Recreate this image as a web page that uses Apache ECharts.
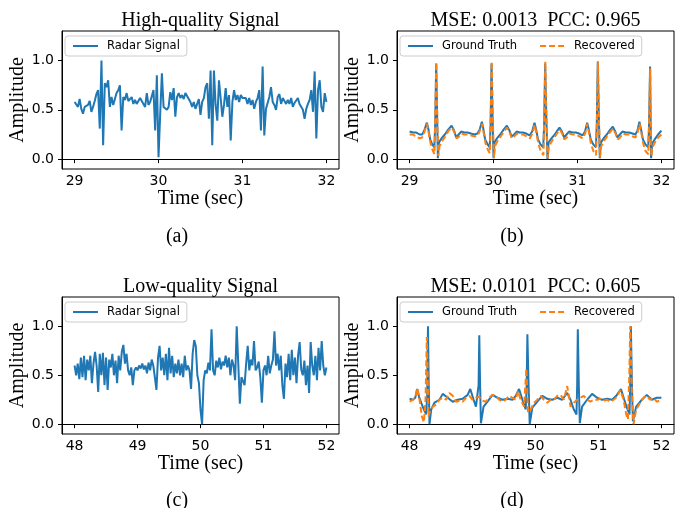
<!DOCTYPE html>
<html style="height: 100%">
<head>
<meta charset="utf-8">
<script src="https://cdn.jsdelivr.net/npm/echarts@6/dist/echarts.min.js"></script>
</head>
<body style="height: 100%; margin: 0; background: #fff">
<div id="main" style="width: 680px; height: 508px"></div>
<script>
// ---- data ----
var titles = ['High-quality Signal', 'MSE: 0.0013  PCC: 0.965', 'Low-quality Signal', 'MSE: 0.0101  PCC: 0.605'];
var panelTags = ['(a)', '(b)', '(c)', '(d)'];
var xTicksTop = [29, 30, 31, 32];
var xTicksBottom = [48, 49, 50, 51, 52];
var yTicks = [0, 0.5, 1];

// radar signal (a): starts 29 s, one value every 0.02 s
var radarA_t0 = 29, radarA_dt = 0.02;
var radarA = [
  0.58,0.56,0.53,0.61,0.51,0.46,0.53,0.51,0.55,0.59,
  0.48,0.53,0.59,0.66,0.70,0.31,1.00,0.14,0.77,0.73,
  0.80,0.53,0.63,0.55,0.56,0.67,0.70,0.75,0.29,0.63,
  0.60,0.67,0.59,0.58,0.63,0.56,0.60,0.56,0.58,0.62,
  0.63,0.56,0.53,0.67,0.55,0.58,0.58,0.70,0.29,0.85,
  0.02,0.46,0.87,0.53,0.51,0.50,0.53,0.68,0.60,0.72,
  0.43,0.63,0.67,0.62,0.65,0.61,0.67,0.68,0.61,0.58,
  0.53,0.58,0.51,0.56,0.61,0.45,0.58,0.62,0.73,0.77,
  0.41,0.90,0.14,0.90,0.55,0.39,0.80,0.62,0.43,0.55,
  0.72,0.53,0.65,0.19,0.58,0.70,0.60,0.65,0.58,0.65,
  0.62,0.60,0.62,0.56,0.62,0.55,0.60,0.51,0.58,0.62,
  0.70,0.29,0.94,0.24,0.51,0.50,0.63,0.73,0.58,0.55,
  0.50,0.63,0.66,0.56,0.62,0.60,0.56,0.60,0.56,0.62,
  0.53,0.57,0.58,0.62,0.56,0.55,0.50,0.41,0.51,0.56,
  0.60,0.70,0.48,0.89,0.21,0.70,0.80,0.53,0.48,0.67,
  0.58
];

// radar signal (c): starts 48 s, one value every 0.025 s
var radarC_t0 = 48, radarC_dt = 0.025;
var radarC = [
  0.60,0.50,0.62,0.46,0.68,0.48,0.70,0.45,0.66,0.55,
  0.70,0.42,0.62,0.74,0.60,0.33,0.72,0.50,0.73,0.40,
  0.68,0.35,0.66,0.58,0.72,0.50,0.65,0.42,0.70,0.55,
  0.74,0.81,0.62,0.72,0.55,0.50,0.58,0.40,0.55,0.58,
  0.55,0.60,0.57,0.62,0.56,0.60,0.52,0.63,0.55,0.66,
  0.60,0.48,0.35,0.68,0.80,0.55,0.68,0.50,0.72,0.45,
  0.78,0.52,0.70,0.48,0.62,0.52,0.66,0.50,0.62,0.48,
  0.70,0.55,0.60,0.55,0.36,0.72,0.86,0.80,0.50,0.42,
  0.15,0.00,0.45,0.55,0.52,0.63,0.55,0.97,0.55,0.50,
  0.65,0.58,0.68,0.56,0.64,0.60,0.70,0.58,0.68,0.50,
  0.66,0.60,0.45,1.00,0.62,0.21,0.48,0.50,0.40,0.62,
  0.80,0.55,0.66,0.60,0.85,0.55,0.58,0.64,0.48,0.22,
  0.55,0.60,0.50,0.70,0.52,0.60,0.66,0.95,0.60,0.72,
  0.55,0.70,0.40,0.26,0.62,0.48,0.72,0.45,0.76,0.50,
  0.68,0.42,0.70,0.84,0.56,0.50,0.65,0.40,0.60,0.32,
  0.84,0.60,0.50,0.70,0.45,0.78,0.55,0.85,0.60,0.50,
  0.58
];

// ground truth / recovered (b), [time, value]
var gtB = [
  [29.000,0.28],[29.040,0.27],[29.080,0.27],[29.120,0.25],[29.150,0.25],[29.175,0.29],[29.206,0.37],[29.225,0.30],
  [29.245,0.20],[29.270,0.15],[29.295,0.12],[29.305,0.35],[29.317,0.97],[29.328,0.45],[29.337,0.01],[29.350,0.17],
  [29.380,0.21],[29.420,0.25],[29.460,0.30],[29.500,0.34],[29.530,0.29],[29.555,0.22],[29.585,0.25],[29.615,0.28],
  [29.650,0.27],[29.690,0.27],[29.730,0.26],[29.770,0.25],[29.810,0.26],[29.835,0.30],[29.861,0.38],[29.880,0.30],
  [29.900,0.20],[29.930,0.15],[29.955,0.12],[29.965,0.35],[29.976,0.97],[29.988,0.45],[30.000,0.01],[30.012,0.17],
  [30.040,0.21],[30.080,0.25],[30.120,0.30],[30.159,0.34],[30.190,0.29],[30.215,0.23],[30.245,0.25],[30.275,0.28],
  [30.310,0.27],[30.350,0.27],[30.390,0.26],[30.430,0.24],[30.460,0.28],[30.488,0.37],[30.508,0.30],[30.530,0.20],
  [30.560,0.15],[30.592,0.12],[30.603,0.35],[30.615,0.97],[30.628,0.45],[30.643,0.00],[30.656,0.17],[30.690,0.21],
  [30.730,0.25],[30.760,0.29],[30.786,0.32],[30.815,0.28],[30.840,0.22],[30.870,0.25],[30.900,0.28],[30.940,0.27],
  [30.980,0.27],[31.020,0.26],[31.060,0.24],[31.090,0.28],[31.115,0.37],[31.135,0.30],[31.158,0.20],[31.188,0.15],
  [31.220,0.12],[31.230,0.35],[31.242,0.99],[31.254,0.45],[31.266,0.01],[31.280,0.17],[31.310,0.21],[31.350,0.25],
  [31.390,0.30],[31.421,0.33],[31.450,0.28],[31.475,0.22],[31.505,0.25],[31.535,0.28],[31.575,0.27],[31.615,0.27],
  [31.655,0.26],[31.690,0.25],[31.715,0.29],[31.738,0.38],[31.758,0.30],[31.780,0.20],[31.810,0.15],[31.843,0.12],
  [31.853,0.35],[31.865,0.94],[31.871,0.45],[31.877,0.01],[31.890,0.16],[31.920,0.20],[31.960,0.25],[32.000,0.29]
];
var recB = [
  [29.000,0.25],[29.040,0.25],[29.080,0.23],[29.120,0.21],[29.150,0.22],[29.178,0.28],[29.206,0.36],[29.228,0.27],
  [29.250,0.16],[29.275,0.09],[29.296,0.05],[29.306,0.40],[29.318,0.98],[29.330,0.40],[29.342,0.03],[29.356,0.13],
  [29.385,0.18],[29.425,0.23],[29.465,0.29],[29.505,0.32],[29.535,0.27],[29.560,0.21],[29.590,0.23],[29.620,0.26],
  [29.655,0.25],[29.695,0.25],[29.735,0.24],[29.775,0.23],[29.812,0.24],[29.838,0.29],[29.862,0.36],[29.882,0.27],
  [29.905,0.16],[29.935,0.09],[29.957,0.06],[29.966,0.40],[29.978,0.99],[29.992,0.40],[30.005,0.01],[30.018,0.13],
  [30.045,0.18],[30.085,0.23],[30.125,0.28],[30.160,0.32],[30.192,0.27],[30.218,0.21],[30.248,0.23],[30.278,0.26],
  [30.313,0.25],[30.353,0.25],[30.393,0.23],[30.432,0.21],[30.462,0.26],[30.490,0.35],[30.510,0.27],[30.533,0.16],
  [30.562,0.08],[30.594,0.04],[30.604,0.40],[30.617,0.99],[30.630,0.40],[30.645,0.01],[30.660,0.13],[30.693,0.18],
  [30.733,0.23],[30.763,0.27],[30.789,0.30],[30.818,0.26],[30.843,0.20],[30.873,0.22],[30.903,0.26],[30.943,0.25],
  [30.983,0.25],[31.023,0.23],[31.063,0.21],[31.092,0.26],[31.117,0.36],[31.137,0.27],[31.160,0.16],[31.190,0.08],
  [31.222,0.04],[31.232,0.40],[31.244,0.99],[31.256,0.40],[31.268,0.02],[31.283,0.13],[31.313,0.18],[31.353,0.23],
  [31.393,0.28],[31.423,0.31],[31.453,0.26],[31.478,0.20],[31.508,0.22],[31.538,0.26],[31.578,0.25],[31.618,0.25],
  [31.658,0.23],[31.692,0.22],[31.717,0.27],[31.740,0.36],[31.760,0.27],[31.783,0.16],[31.812,0.08],[31.844,0.05],
  [31.854,0.40],[31.866,0.92],[31.873,0.40],[31.880,0.03],[31.893,0.12],[31.923,0.17],[31.963,0.22],[32.000,0.25]
];

// ground truth / recovered (d), [time, value]
var gtD = [
  [48.000,0.26],[48.053,0.25],[48.090,0.27],[48.121,0.36],[48.150,0.28],[48.184,0.22],[48.227,0.15],[48.264,0.10],
  [48.280,0.30],[48.292,1.00],[48.304,0.40],[48.316,0.00],[48.343,0.15],[48.395,0.22],[48.474,0.25],[48.527,0.31],
  [48.606,0.27],[48.685,0.23],[48.764,0.25],[48.843,0.26],[48.922,0.30],[48.964,0.36],[49.017,0.25],[49.054,0.18],
  [49.085,0.16],[49.096,0.40],[49.107,0.91],[49.120,0.40],[49.133,0.01],[49.175,0.18],[49.238,0.23],[49.318,0.30],
  [49.397,0.27],[49.476,0.25],[49.555,0.26],[49.634,0.25],[49.686,0.29],[49.739,0.36],[49.792,0.25],[49.845,0.15],
  [49.860,0.40],[49.871,0.92],[49.890,0.40],[49.908,0.00],[49.950,0.17],[50.029,0.23],[50.108,0.29],[50.187,0.26],
  [50.266,0.25],[50.345,0.27],[50.424,0.25],[50.503,0.32],[50.556,0.25],[50.609,0.15],[50.651,0.10],[50.662,0.40],
  [50.672,0.97],[50.688,0.40],[50.704,0.01],[50.740,0.18],[50.820,0.25],[50.899,0.31],[50.978,0.27],[51.057,0.25],
  [51.136,0.26],[51.215,0.25],[51.283,0.29],[51.357,0.36],[51.410,0.25],[51.462,0.15],[51.494,0.10],[51.505,0.45],
  [51.515,1.00],[51.530,0.45],[51.547,0.03],[51.599,0.18],[51.689,0.25],[51.768,0.30],[51.847,0.25],[51.926,0.27],
  [52.000,0.27]
];
var recD = [
  [48.000,0.23],[48.053,0.25],[48.090,0.27],[48.121,0.37],[48.158,0.25],[48.195,0.08],[48.227,0.02],[48.253,0.25],
  [48.274,0.89],[48.300,0.08],[48.332,0.15],[48.369,0.18],[48.422,0.20],[48.474,0.25],[48.527,0.27],[48.580,0.25],
  [48.632,0.32],[48.685,0.29],[48.738,0.23],[48.791,0.24],[48.843,0.23],[48.896,0.27],[48.949,0.29],[49.001,0.25],
  [49.054,0.27],[49.107,0.28],[49.159,0.24],[49.212,0.23],[49.265,0.27],[49.318,0.30],[49.370,0.29],[49.423,0.25],
  [49.476,0.23],[49.528,0.25],[49.581,0.29],[49.634,0.27],[49.686,0.25],[49.723,0.34],[49.765,0.25],[49.818,0.18],
  [49.855,0.57],[49.881,0.12],[49.924,0.15],[49.976,0.22],[50.029,0.25],[50.082,0.29],[50.134,0.25],[50.187,0.22],
  [50.240,0.25],[50.292,0.25],[50.345,0.29],[50.398,0.30],[50.451,0.25],[50.503,0.39],[50.530,0.29],[50.556,0.18],
  [50.609,0.22],[50.661,0.25],[50.714,0.27],[50.767,0.29],[50.820,0.25],[50.872,0.23],[50.925,0.25],[50.978,0.25],
  [51.030,0.26],[51.083,0.24],[51.136,0.25],[51.188,0.23],[51.241,0.25],[51.294,0.28],[51.347,0.35],[51.399,0.25],
  [51.441,0.10],[51.468,0.05],[51.490,0.50],[51.505,1.00],[51.531,0.32],[51.557,0.00],[51.599,0.15],[51.663,0.22],
  [51.715,0.27],[51.768,0.29],[51.821,0.25],[51.874,0.27],[51.926,0.23],[52.000,0.25]
];

// ---- chart ----
var BLUE = '#1f77b4', ORANGE = '#ff7f0e';
var serif = 'Liberation Serif', sans = 'DejaVu Sans';

function evenly(t0, dt, vals) {
  return vals.map(function (v, i) { return [t0 + i * dt, v]; });
}

// grid boxes: [left, top, width, height]
var boxes = [[62, 31, 277, 138], [397, 31, 277, 138], [62, 297, 277, 137], [397, 297, 277, 137]];
var xRanges = [[28.85, 32.15], [28.85, 32.15], [47.8, 52.2], [47.8, 52.2]];

var grids = [], xAxes = [], yAxes = [];
boxes.forEach(function (b, k) {
  grids.push({left: b[0], top: b[1], width: b[2], height: b[3], show: true,
    borderColor: '#000', borderWidth: 1});
  var xt = k < 2 ? xTicksTop : xTicksBottom;
  xAxes.push({
    type: 'value', gridIndex: k, min: xRanges[k][0], max: xRanges[k][1],
    axisLine: {show: true, lineStyle: {color: '#000'}},
    axisTick: {show: true, length: 4, customValues: xt, lineStyle: {color: '#000'}},
    axisLabel: {customValues: xt, margin: 5, fontFamily: sans, fontSize: 14, color: '#000'},
    splitLine: {show: false},
    name: 'Time (sec)', nameLocation: 'middle', nameGap: 16,
    nameTextStyle: {fontFamily: serif, fontSize: 20, color: '#000'}
  });
  yAxes.push({
    type: 'value', gridIndex: k, min: -0.1, max: 1.3,
    axisLine: {show: true, lineStyle: {color: '#000'}},
    axisTick: {show: true, length: 4, customValues: yTicks, lineStyle: {color: '#000'}},
    axisLabel: {customValues: yTicks, margin: 8, fontFamily: sans, fontSize: 14, color: '#000',
      formatter: function (v) { return v.toFixed(1); }},
    splitLine: {show: false},
    name: 'Amplitude', nameLocation: 'middle', nameGap: 25,
    nameTextStyle: {fontFamily: serif, fontSize: 20, color: '#000'}
  });
});

function legendAt(left, top, names) {
  return {
    left: left, top: top, data: names, orient: 'horizontal',
    itemWidth: 25, itemHeight: 12, itemGap: 22, padding: [4, 7],
    backgroundColor: 'rgba(255,255,255,0.8)', borderColor: '#ccc', borderWidth: 1, borderRadius: 3,
    itemStyle: {opacity: 0},   // line only, no marker in the key
    textStyle: {fontFamily: sans, fontSize: 11.5, color: '#000', padding: [0, 0, 0, 4]},
    selectedMode: false
  };
}

function line(name, k, data, color, dashed) {
  return {
    name: name, type: 'line', xAxisIndex: k, yAxisIndex: k, data: data,
    showSymbol: false, symbol: 'none', animation: false,
    lineStyle: {color: color, width: 2, type: dashed ? [6, 3] : 'solid'},
    itemStyle: {color: color}
  };
}

var titleX = [200.5, 535.5, 200.5, 535.5];
var titleY = [11, 11, 277, 277];
var tagX = [177, 512, 177, 512];
var tagY = [237, 237, 501, 501];

var option = {
  animation: false,
  backgroundColor: '#fff',
  title: titles.map(function (t, k) {
    return {text: t, left: titleX[k], top: titleY[k], textAlign: 'center', padding: 0,
      textStyle: {fontFamily: serif, fontSize: 20, fontWeight: 'normal', color: '#000'}};
  }),
  grid: grids,
  xAxis: xAxes,
  yAxis: yAxes,
  legend: [
    legendAt(65, 36, ['Radar Signal']),
    legendAt(400, 36, ['Ground Truth', 'Recovered']),
    legendAt(65, 302, ['Radar Signal']),
    legendAt(400, 302, ['Ground Truth', 'Recovered'])
  ],
  graphic: panelTags.map(function (t, k) {
    return {type: 'text', x: tagX[k], y: tagY[k],
      style: {text: t, fontFamily: serif, fontSize: 20, fill: '#000', align: 'center', verticalAlign: 'middle'}};
  }),
  series: [
    line('Radar Signal', 0, evenly(radarA_t0, radarA_dt, radarA), BLUE, false),
    line('Ground Truth', 1, gtB, BLUE, false),
    line('Recovered', 1, recB, ORANGE, true),
    line('Radar Signal', 2, evenly(radarC_t0, radarC_dt, radarC), BLUE, false),
    line('Ground Truth', 3, gtD, BLUE, false),
    line('Recovered', 3, recD, ORANGE, true)
  ]
};

var chart = echarts.init(document.getElementById('main'), null, {renderer: 'canvas'});
chart.setOption(option);
</script>
</body>
</html>
